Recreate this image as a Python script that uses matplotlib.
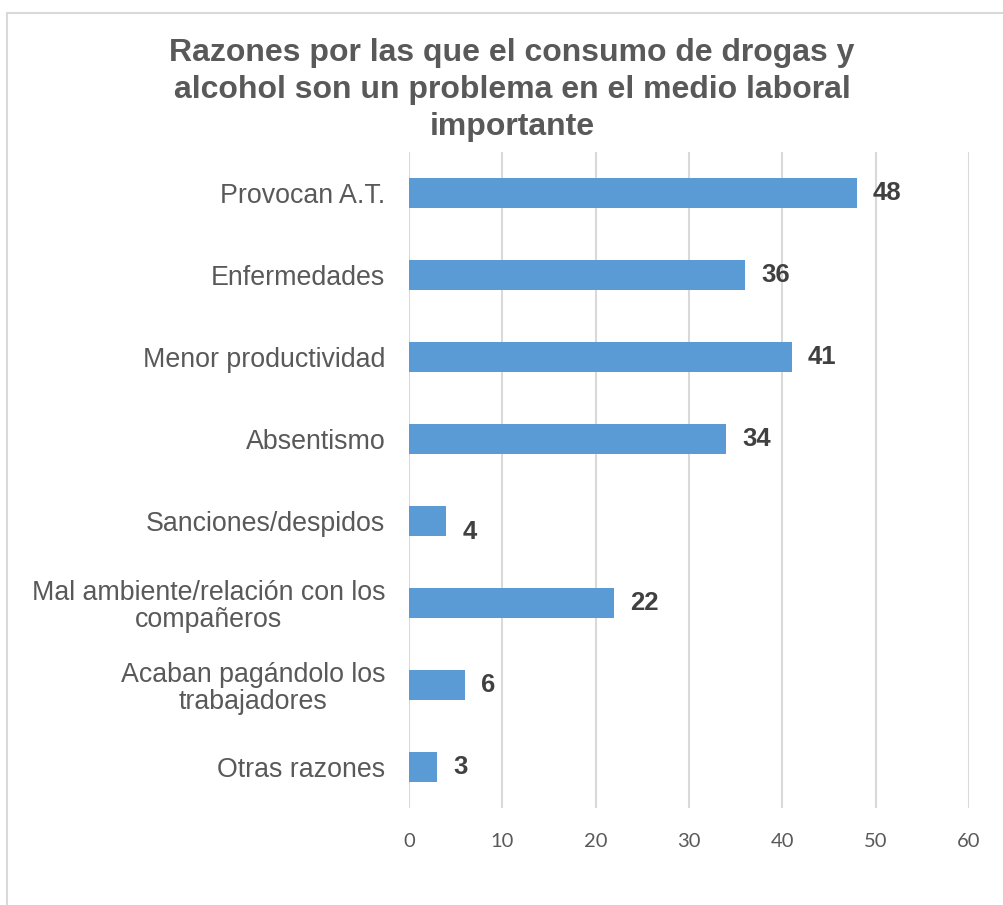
import matplotlib.pyplot as plt
from matplotlib.patches import Rectangle

categorias = [
    'Provocan A.T.',
    'Enfermedades',
    'Menor productividad',
    'Absentismo',
    'Sanciones/despidos',
    'Mal ambiente/relación con los\ncompañeros',
    'Acaban pagándolo los\ntrabajadores',
    'Otras razones',
]
valores = [48, 36, 41, 34, 4, 22, 6, 3]
ticks_x = [0, 10, 20, 30, 40, 50, 60]

titulo = ('Razones por las que el consumo de drogas y\n'
          'alcohol son un problema en el medio laboral\n'
          'importante')

fig = plt.figure(figsize=(10.04, 9.05), dpi=100)
ax = fig.add_axes([0.4074, 0.1072, 0.5577, 0.7248])

pos = list(range(len(categorias)))
ax.barh(pos, valores, height=0.355, color='#5b9bd5', zorder=3)
ax.set_ylim(len(categorias) - 0.5, -0.5)
ax.set_xlim(0, 60)
ax.set_xticks(ticks_x)
ax.set_yticks(pos)
ax.set_yticklabels(categorias, fontsize=19.3, color='#595959',
                   family='Liberation Sans', multialignment='center',
                   linespacing=1.05)
ax.tick_params(axis='y', length=0, pad=17)
ax.tick_params(axis='x', length=0, pad=18, labelsize=14.5, labelcolor='#595959')
for lbl in ax.get_xticklabels():
    lbl.set_family('Lato')

ax.grid(axis='x', color='#d9d9d9', lw=1.5, zorder=0)
for s in ax.spines.values():
    s.set_visible(False)

# etiquetas de valor al final de cada barra (la de "4" va algo más abajo)
for p, v in zip(pos, valores):
    dy = -8 if v == 4 else 0
    ax.annotate(str(v), xy=(v, p), xytext=(11.5, dy), textcoords='offset points',
                va='center', ha='left', fontsize=18.5, fontweight='bold',
                color='#404040', family='Liberation Sans')

fig.text(0.51, 1 - 38 / 905, titulo, ha='center', va='top', fontsize=23,
         fontweight='bold', color='#595959', family='Liberation Sans',
         linespacing=1.3)

# borde del área del gráfico
fig.patches.append(Rectangle((7 / 1004, -0.1), 2, 1 - 13 / 905 + 0.1,
                             transform=fig.transFigure, fill=False,
                             edgecolor='#d9d9d9', lw=1.5))

fig.savefig('out.png', dpi=100)
